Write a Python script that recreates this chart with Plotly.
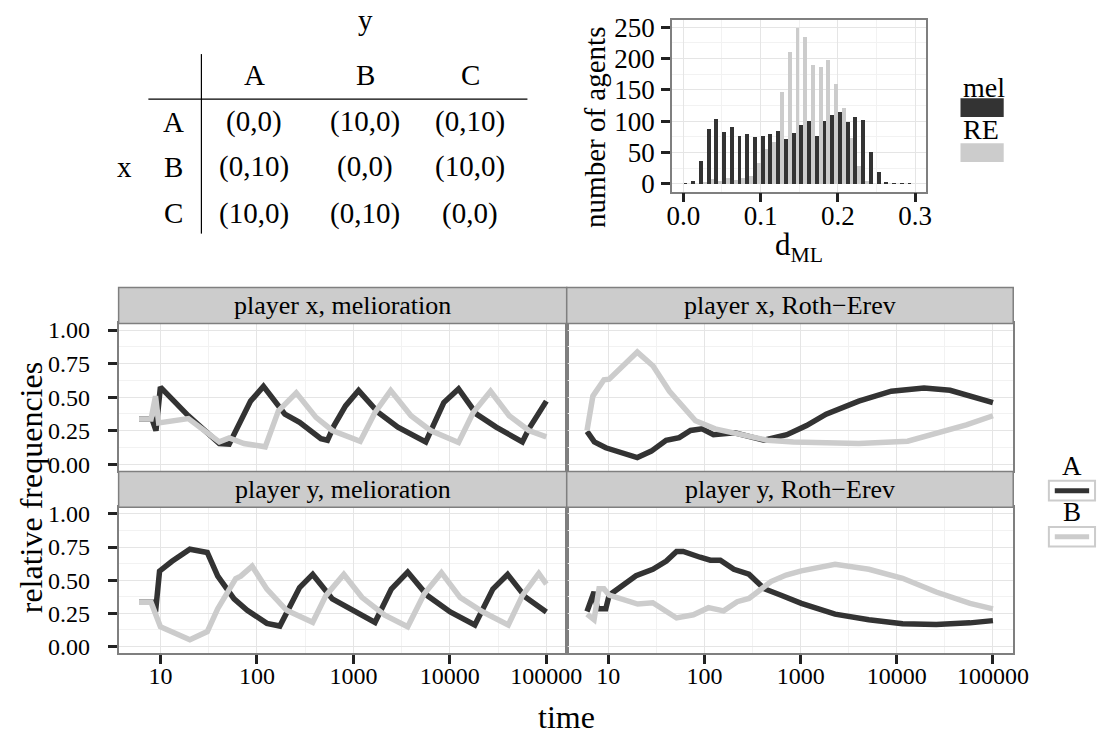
import plotly.graph_objects as go

W, H = 1112, 738
FONT = "Liberation Serif"
DARK = "#333333"
LIGHT = "#cccccc"
BORDER = "#7f7f7f"
GRID = "#e5e5e5"
MINOR = "#f2f2f2"

# ---------------- data ----------------
# histogram of d_ML (bin centres, width 0.01)
hist_bins = [0.005, 0.015, 0.025, 0.035, 0.045, 0.055, 0.065, 0.075, 0.085, 0.095,
             0.105, 0.115, 0.125, 0.135, 0.145, 0.155, 0.165, 0.175, 0.185, 0.195,
             0.205, 0.215, 0.225, 0.235, 0.245, 0.255, 0.265, 0.275, 0.285, 0.295]
hist_mel = [1, 5, 37, 87, 104, 82, 90, 77, 80, 74, 77, 79, 84, 72, 81, 94, 101, 76, 101, 110,
            115, 99, 106, 102, 51, 19, 2, 1, 1, 1]
hist_re = [0, 0, 3, 7, 4, 9, 6, 10, 13, 34, 55, 67, 146, 210, 249, 234, 190, 187, 198, 159,
           121, 73, 28, 4, 0, 0, 0, 0, 0, 0]

# player x, melioration
xmel_A_t = [6, 8.2, 9, 10, 19.5, 40.8, 51.6, 86, 117, 195, 277, 461, 539, 631, 829, 1132, 1811,
            2893, 5623, 6577, 8650, 12300, 18900, 30200, 56400, 65900, 100000]
xmel_A_v = [.336, .336, .25, .575, .36, .154, .149, .47, .58, .373, .312, .19, .178, .288, .434,
            .549, .385, .276, .166, .276, .459, .561, .373, .276, .166, .263, .47]
xmel_B_t = [6, 8, 8.9, 9.6, 19.5, 40.8, 51.6, 73.5, 122, 167, 256, 410, 605, 1178, 1676, 2438,
            3955, 6310, 12300, 17460, 26400, 41200, 65900, 100000]
xmel_B_v = [.336, .336, .507, .307, .34, .166, .195, .154, .129, .397, .532, .349, .251, .171,
            .385, .549, .361, .251, .161, .385, .544, .361, .251, .203]

# player y, melioration
ymel_A_t = [6, 8.2, 8.9, 9.8, 13.2, 20.2, 30.6, 39.3, 58, 79.4, 127, 173, 277, 379, 605, 968,
            1676, 2473, 3656, 5848, 10090, 18150, 27900, 39700, 61000, 100000]
ymel_A_v = [.333, .333, .259, .568, .642, .733, .709, .531, .358, .272, .173, .153, .444, .543,
            .358, .272, .181, .432, .561, .383, .259, .161, .432, .543, .37, .259]
ymel_B_t = [6, 8, 10, 20.2, 30.6, 39.3, 60.4, 68, 89.3, 127, 203, 379, 519, 796, 1225, 2118,
            3656, 5410, 8180, 12760, 22080, 40300, 56400, 83400, 100000]
ymel_B_v = [.333, .333, .148, .05, .111, .284, .511, .53, .605, .432, .272, .181, .383, .543,
            .37, .235, .148, .395, .556, .37, .259, .161, .383, .551, .47]

# player x, Roth-Erev
xre_A_t = [6, 7.15, 9.4, 20, 28, 39.9, 54.6, 71.6, 94.3, 124, 206, 416, 719, 1151, 1840, 4020,
           8770, 19200, 35800, 100000]
xre_A_v = [.244, .166, .122, .049, .097, .178, .198, .251, .263, .22, .234, .178, .22, .288,
           .373, .47, .544, .568, .551, .459]
xre_B_t = [6, 6.9, 9.0, 10.2, 20, 29.2, 43.2, 56.8, 80.6, 129, 241, 451, 841, 4020, 12970,
           28300, 52900, 100000]
xre_B_v = [.251, .507, .629, .634, .836, .732, .544, .454, .324, .263, .22, .178, .166, .154,
           .171, .234, .293, .361]

# player y, Roth-Erev
yre_A_t = [6, 7.1, 7.7, 9.4, 10.2, 19.4, 29, 40.1, 51.2, 60.1, 90, 115, 146, 202, 290, 418, 626,
           1016, 2280, 5120, 11480, 25700, 57700, 100000]
yre_A_v = [.263, .41, .283, .283, .386, .533, .582, .644, .717, .717, .673, .651, .651, .582,
           .545, .435, .386, .324, .243, .201, .17, .165, .177, .194]
yre_B_t = [6, 7.1, 8, 9, 10.2, 20.2, 29, 51.2, 76.6, 110, 158, 219, 290, 491, 706, 1016, 2280,
           5120, 11480, 25700, 57700, 100000]
yre_B_v = [.243, .201, .435, .435, .386, .319, .329, .214, .238, .292, .268, .337, .361, .489,
           .538, .57, .619, .582, .514, .41, .324, .283]

strip_labels = ["player x, melioration", "player x, Roth\u2212Erev",
                "player y, melioration", "player y, Roth\u2212Erev"]
series_names = ["A", "B"]
hist_names = ["mel", "RE"]

# payoff table
tab_cols = ["A", "B", "C"]
tab_rows = ["A", "B", "C"]
tab_cells = [["(0,0)", "(10,0)", "(0,10)"],
             ["(0,10)", "(0,0)", "(10,0)"],
             ["(10,0)", "(0,10)", "(0,0)"]]

time_ticks = [10, 100, 1000, 10000, 100000]
time_minor = [31.62, 316.2, 3162, 31623]
freq_ticks = [0, 0.25, 0.5, 0.75, 1.0]
freq_minor = [0.125, 0.375, 0.625, 0.875]


def X(p):
    return p / W


def Y(p):
    return 1 - p / H


fig = go.Figure()

# ---------------- histogram ----------------
fig.add_trace(go.Bar(x=hist_bins, y=hist_mel, name=hist_names[0], marker_color=DARK,
                     marker_line_width=0, xaxis="x", yaxis="y", showlegend=False))
fig.add_trace(go.Bar(x=hist_bins, y=hist_re, name=hist_names[1], marker_color=LIGHT,
                     marker_line_width=0, xaxis="x", yaxis="y", showlegend=False))

# ---------------- facet lines ----------------
panels = [
    ("x2", "y2", xmel_A_t, xmel_A_v, xmel_B_t, xmel_B_v),
    ("x3", "y3", xre_A_t, xre_A_v, xre_B_t, xre_B_v),
    ("x4", "y4", ymel_A_t, ymel_A_v, ymel_B_t, ymel_B_v),
    ("x5", "y5", yre_A_t, yre_A_v, yre_B_t, yre_B_v),
]
for xa, ya, at, av, bt, bv in panels:
    fig.add_trace(go.Scatter(x=at, y=av, mode="lines", name=series_names[0],
                             line=dict(color=DARK, width=5.5), xaxis=xa, yaxis=ya,
                             showlegend=False))
    fig.add_trace(go.Scatter(x=bt, y=bv, mode="lines", name=series_names[1],
                             line=dict(color=LIGHT, width=5.5), xaxis=xa, yaxis=ya,
                             showlegend=False))

tickfont = dict(family=FONT, size=24, color="black")
histtickfont = dict(family=FONT, size=27, color="black")

common = dict(showline=True, mirror=True, linecolor=BORDER, linewidth=1.5,
              gridcolor=GRID, gridwidth=1.2, zeroline=False)

L0, L1, R1 = 115.7, 572, 1026.7
P1T, P1B = 322.5, 472.8
P2T, P2B = 510, 658.4


def xlog(dom, anchor, labels):
    d = dict(common, type="log", domain=dom, anchor=anchor, range=[0.567, 5.211],
             tickmode="array", tickvals=time_ticks, ticktext=[str(v) for v in time_ticks],
             minor=dict(tickmode="array", tickvals=time_minor, showgrid=True,
                        gridcolor=MINOR, gridwidth=1, ticks=""))
    if labels:
        d.update(ticks="outside", ticklen=9, tickwidth=2.5, tickcolor="#222222",
                 showticklabels=True, tickfont=tickfont, ticklabelstandoff=-8)
    else:
        d.update(ticks="", showticklabels=False)
    return d


def yfreq(dom, anchor, labels):
    d = dict(common, domain=dom, anchor=anchor, range=[-0.05, 1.05],
             tickmode="array", tickvals=freq_ticks, ticktext=["%.2f" % v for v in freq_ticks],
             minor=dict(tickmode="array", tickvals=freq_minor, showgrid=True,
                        gridcolor=MINOR, gridwidth=1, ticks=""))
    if labels:
        d.update(ticks="outside", ticklen=9, tickwidth=2.5, tickcolor="#222222",
                 showticklabels=True, tickfont=tickfont, ticklabelstandoff=13)
    else:
        d.update(ticks="", showticklabels=False)
    return d


fig.update_layout(
    width=W, height=H, margin=dict(l=0, r=0, t=0, b=0),
    paper_bgcolor="white", plot_bgcolor="white",
    font=dict(family=FONT, color="black"),
    barmode="group", bargap=0, bargroupgap=0,
    xaxis=dict(common, domain=[X(679), X(938.3)], anchor="y", range=[-0.0149, 0.3147],
               tickmode="array", tickvals=[0, 0.1, 0.2, 0.3],
               ticktext=["0.0", "0.1", "0.2", "0.3"],
               minor=dict(tickmode="array", tickvals=[0.05, 0.15, 0.25], showgrid=True,
                          gridcolor=MINOR, gridwidth=1, ticks=""),
               ticks="outside", ticklen=9, tickwidth=2.5, tickcolor="#222222",
               tickfont=histtickfont, ticklabelstandoff=-10),
    yaxis=dict(common, domain=[Y(188.3), Y(13.3)], anchor="x", range=[-12.45, 261.45],
               tickmode="array", tickvals=[0, 50, 100, 150, 200, 250],
               minor=dict(tickmode="array", tickvals=[25, 75, 125, 175, 225], showgrid=True,
                          gridcolor=MINOR, gridwidth=1, ticks=""),
               ticks="outside", ticklen=9, tickwidth=2.5, tickcolor="#222222",
               tickfont=histtickfont, ticklabelstandoff=1),
    xaxis2=xlog([X(L0), X(L1)], "y2", False),
    yaxis2=yfreq([Y(P1B), Y(P1T)], "x2", True),
    xaxis3=xlog([X(L1), X(R1)], "y3", False),
    yaxis3=yfreq([Y(P1B), Y(P1T)], "x3", False),
    xaxis4=xlog([X(L0), X(L1)], "y4", True),
    yaxis4=yfreq([Y(P2B), Y(P2T)], "x4", True),
    xaxis5=xlog([X(L1), X(R1)], "y5", True),
    yaxis5=yfreq([Y(P2B), Y(P2T)], "x5", False),
)

shapes = []
annotations = []


def txt(x, y, s, size, xanchor="center", angle=0):
    annotations.append(dict(x=X(x), y=Y(y), xref="paper", yref="paper", text=s,
                            showarrow=False, xanchor=xanchor, yanchor="middle",
                            textangle=angle, font=dict(family=FONT, size=size, color="black")))


def rect(x0, y0, x1, y1, fill, line=None, lw=0):
    shapes.append(dict(type="rect", xref="paper", yref="paper", x0=X(x0), x1=X(x1),
                       y0=Y(y1), y1=Y(y0), fillcolor=fill,
                       line=dict(color=line or fill, width=lw), layer="above"))


def seg(x0, y0, x1, y1, color, width):
    shapes.append(dict(type="line", xref="paper", yref="paper", x0=X(x0), x1=X(x1),
                       y0=Y(y0), y1=Y(y1), line=dict(color=color, width=width)))


# single divider between the facet columns
seg(L1, P1T, L1, P1B, BORDER, 2)
seg(L1, P2T, L1, P2B, BORDER, 2)

# strips
STRIP_H = 36.5
for i, lab in enumerate(strip_labels):
    col = i % 2
    row = i // 2
    x0, x1 = (L0, L1) if col == 0 else (L1, R1)
    top = P1T if row == 0 else P2T
    rect(x0, top - STRIP_H, x1, top, LIGHT, BORDER, 1.5)
    txt((x0 + x1) / 2, top - STRIP_H / 2, lab, 26)

# axis titles
txt(572, 724, "time", 32)
txt(26, 490, "relative frequencies", 32, angle=-90)
txt(600, 123, "number of agents", 29, angle=-90)
txt(809, 245, "d<sub>ML</sub>", 31)

# histogram legend
txt(973, 82, hist_names[0], 28, xanchor="left")
rect(973, 93, 1017, 112, DARK)
txt(973, 125, hist_names[1], 28, xanchor="left")
rect(973, 139, 1017, 158, LIGHT)

# line legend
for j, (nm, colr) in enumerate(zip(series_names, [DARK, LIGHT])):
    yt = 468 + j * 47
    yb = 493 + j * 47
    txt(1087, yt, nm, 27)
    rect(1063, yb - 10, 1110, yb + 10, "white", LIGHT, 2)
    seg(1069, yb, 1104, yb, colr, 5)

# payoff table
col_x = [254, 367, 474]
row_y = [117, 163, 210]
TS = 29
txt(367, 13, "y", TS)
for cx, c in zip(col_x, tab_cols):
    txt(cx, 69, c, TS)
for ry, r in zip(row_y, tab_rows):
    txt(172, ry, r, TS)
txt(122, 163, "x", TS)
for i, ry in enumerate(row_y):
    for j, cx in enumerate(col_x):
        txt(cx, ry, tab_cells[i][j], TS)
seg(200, 48, 200, 231, "black", 1.2)
seg(146, 94, 532, 94, "black", 1.2)

fig.update_layout(shapes=shapes, annotations=annotations)
fig.write_html("out.html")
